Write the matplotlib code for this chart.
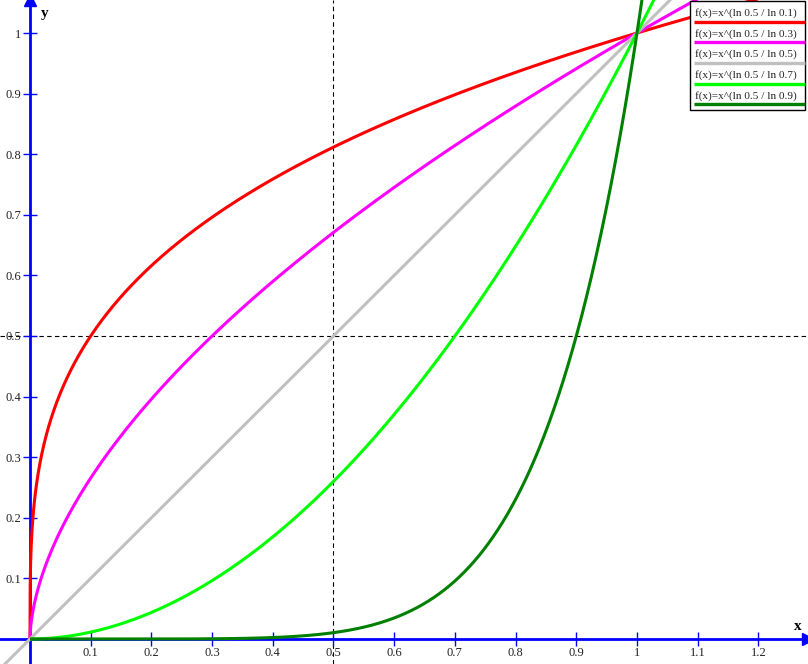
import numpy as np
import matplotlib
matplotlib.use("Agg")
import matplotlib.pyplot as plt
from matplotlib.patches import Rectangle

# bases a in f(x) = x^(ln 0.5 / ln a)
bases = [0.1, 0.3, 0.5, 0.7, 0.9]
colors = ["#ff0000", "#ff00ff", "#c0c0c0", "#00ff00", "#008000"]
labels = ["f(x)=x^(ln 0.5 / ln %s)" % b for b in bases]

x_ticks = [0.1, 0.2, 0.3, 0.4, 0.5, 0.6, 0.7, 0.8, 0.9, 1, 1.1, 1.2]
y_ticks = [0.1, 0.2, 0.3, 0.4, 0.5, 0.6, 0.7, 0.8, 0.9, 1]

W, H = 808, 664
xmin, xmax = -30 / 607, (W - 30) / 607
ymin, ymax = -(H - 639) / 606, 639 / 606

plt.rcParams["font.family"] = ["Liberation Serif", "DejaVu Serif"]

fig = plt.figure(figsize=(W / 100, H / 100), dpi=100)
ax = fig.add_axes([0, 0, 1, 1])
ax.set_xlim(xmin, xmax)
ax.set_ylim(ymin, ymax)

for s in ["top", "right"]:
    ax.spines[s].set_visible(False)
for s in ["left", "bottom"]:
    ax.spines[s].set_position(("data", 0))
    ax.spines[s].set_color("blue")
    ax.spines[s].set_linewidth(2)
    ax.spines[s].set_zorder(2)

ax.set_xticks(x_ticks)
ax.set_yticks(y_ticks)
ax.set_xticklabels([("%g" % t) for t in x_ticks])
ax.set_yticklabels([("%g" % t) for t in y_ticks])
ax.tick_params(direction="inout", length=10, width=1, color="blue",
               labelsize=9, labelcolor="#222222", pad=1)

# arrow heads
ax.plot(1, 0, ">", color="blue", markersize=8, transform=ax.get_yaxis_transform(), clip_on=False, zorder=5)
ax.plot(0, 1, "^", color="blue", markersize=8, transform=ax.get_xaxis_transform(), clip_on=False, zorder=5)
ax.text(0.987, 0.057, "x", transform=ax.transAxes, fontsize=11, fontweight="bold", ha="center", va="center")
ax.text(45 / W, 1 - 13 / H, "y", transform=ax.transAxes, fontsize=11, fontweight="bold", ha="center", va="center")

# dashed guides
ax.axvline(0.5, color="black", lw=0.8, dashes=(4, 3), zorder=1.5)
ax.axhline(0.5, color="black", lw=0.8, dashes=(4, 3), zorder=1.5)

# curves
for b, c in zip(bases, colors):
    p = np.log(0.5) / np.log(b)
    if p == 1:
        xs = np.linspace(xmin, xmax, 400)
    else:
        xs = np.linspace(0, xmax, 4000)
    ax.plot(xs, xs ** p, color=c, lw=2.2, zorder=3, solid_capstyle="butt")

# legend box
def fx(px):
    return px / W

def fy(py):
    return 1 - py / H

ax.add_patch(Rectangle((fx(690), fy(110)), fx(805) - fx(690), fy(1) - fy(110),
                       transform=ax.transAxes, facecolor="white", edgecolor="black",
                       lw=1, zorder=6, clip_on=False))
for i, (lab, c) in enumerate(zip(labels, colors)):
    ty = 13 + i * 20.7
    ax.text(fx(695), fy(ty), lab, transform=ax.transAxes, fontsize=8.1,
            ha="left", va="center", zorder=7, color="#222222")
    ly = 21.5 + i * 20.7
    ax.plot([fx(694), fx(805)], [fy(ly), fy(ly)], transform=ax.transAxes,
            color=c, lw=2.4, zorder=7, clip_on=False, solid_capstyle="butt")

fig.savefig("out.png", dpi=100)
